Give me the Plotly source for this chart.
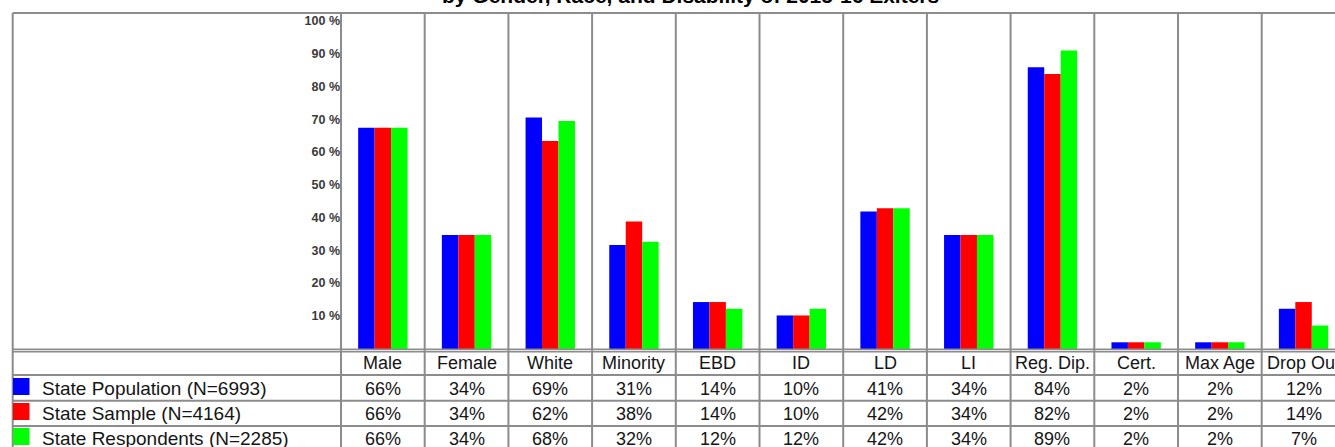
import plotly.graph_objects as go

# ---------------- data ----------------
categories = ["Male", "Female", "White", "Minority", "EBD", "ID", "LD", "LI",
              "Reg. Dip.", "Cert.", "Max Age", "Drop Out"]
series_names = ["State Population (N=6993)", "State Sample (N=4164)",
                "State Respondents (N=2285)"]
population = [66, 34, 69, 31, 14, 10, 41, 34, 84, 2, 2, 12]
sample = [66, 34, 62, 38, 14, 10, 42, 34, 82, 2, 2, 14]
respondents = [66, 34, 68, 32, 12, 12, 42, 34, 89, 2, 2, 7]
tick_values = [10, 20, 30, 40, 50, 60, 70, 80, 90, 100]
tick_labels = [f"{v} %" for v in tick_values]
title_text = "by Gender, Race, and Disability of 2015-16 Exiters"

# ---------------- styles / layout constants ----------------
W, H = 1335, 447
colors = ["#0000FF", "#FF0000", "#00FF00"]
LINE = "#8c8c8c"
FONT = "Liberation Sans, Arial, sans-serif"
TXT = "#151515"

def px_x(p):
    return p / W

def px_y(p):
    return 1 - p / H

left_border = 12.7
col_left = 341.0
top_border = 13.0
plot_top = 13.6
plot_bottom = 349.0
table_lines = [375.0, 400.8, 426.0]
header_center = 363.0
row_centers = [388.5, 413.5, 438.5]
swatch_tops = [378.0, 403.0, 428.0]

fig = go.Figure()
all_series = [population, sample, respondents]
for name, vals, col in zip(series_names, all_series, colors):
    fig.add_bar(x=categories, y=vals, name=name, marker_color=col,
                marker_line_width=0, showlegend=False, hoverinfo="x+y+name")
# helper trace so the label axis is drawn
fig.add_scatter(x=[categories[0]], y=[None], yaxis="y2", showlegend=False,
                hoverinfo="skip", mode="markers")

shapes = []
# outer border (left, top)
shapes.append(dict(type="line", xref="paper", yref="paper",
                   x0=px_x(left_border), x1=1.0, y0=px_y(top_border), y1=px_y(top_border),
                   line=dict(color=LINE, width=2)))
shapes.append(dict(type="line", xref="paper", yref="paper",
                   x0=px_x(left_border), x1=px_x(left_border), y0=0, y1=px_y(top_border),
                   line=dict(color=LINE, width=2)))
# first column divider
shapes.append(dict(type="line", xref="paper", yref="paper",
                   x0=px_x(col_left), x1=px_x(col_left), y0=0, y1=px_y(top_border),
                   line=dict(color=LINE, width=2)))
# category column dividers (from the category axis)
for i in range(len(categories) - 1):
    shapes.append(dict(type="line", xref="x", yref="paper",
                       x0=i + 0.5, x1=i + 0.5, y0=0, y1=px_y(top_border),
                       line=dict(color=LINE, width=2)))
# chart / table boundary (double line)
for yy in (349.3, 351.6):
    shapes.append(dict(type="line", xref="paper", yref="paper",
                       x0=px_x(left_border), x1=1.0, y0=px_y(yy), y1=px_y(yy),
                       line=dict(color=LINE, width=1.6)))
# table row lines
for yy in table_lines:
    shapes.append(dict(type="line", xref="paper", yref="paper",
                       x0=px_x(left_border), x1=1.0, y0=px_y(yy), y1=px_y(yy),
                       line=dict(color=LINE, width=2)))
# legend swatches
for top, col in zip(swatch_tops, colors):
    shapes.append(dict(type="rect", xref="paper", yref="paper",
                       x0=px_x(13.0), x1=px_x(29.5), y0=px_y(top + 17), y1=px_y(top),
                       fillcolor=col, line=dict(width=0), layer="above"))

annotations = []
# title (only its lower part is visible at the top edge)
annotations.append(dict(text=f"<b>{title_text}</b>", xref="paper", yref="paper",
                        x=px_x(690), y=px_y(-4.3), xanchor="center", yanchor="middle",
                        showarrow=False, font=dict(family=FONT, size=21, color="#000000")))
# table header
for c in categories:
    annotations.append(dict(text=c, xref="x", yref="paper", x=c, y=px_y(header_center),
                            xanchor="center", yanchor="middle", showarrow=False,
                            font=dict(family=FONT, size=18, color=TXT)))
# table rows
for name, vals, yc in zip(series_names, all_series, row_centers):
    annotations.append(dict(text=name, xref="paper", yref="paper", x=px_x(39.5), y=px_y(yc),
                            xanchor="left", yanchor="middle", showarrow=False,
                            font=dict(family=FONT, size=19, color=TXT)))
    for c, v in zip(categories, vals):
        annotations.append(dict(text=f"{v}%", xref="x", yref="paper", x=c, y=px_y(yc),
                                xanchor="center", yanchor="middle", showarrow=False,
                                font=dict(family=FONT, size=18, color=TXT)))

col_w = 83.7
x_right = -0.5 + (W - col_left) / col_w

fig.update_layout(
    width=W, height=H, autosize=False,
    margin=dict(l=0, r=0, t=0, b=0, pad=0),
    paper_bgcolor="white", plot_bgcolor="white",
    barmode="group", bargap=0.41, bargroupgap=0,
    showlegend=False,
    xaxis=dict(domain=[px_x(col_left), 1.0], range=[-0.5, x_right], type="category",
               showticklabels=False, showgrid=False, zeroline=False, showline=False,
               ticks="", fixedrange=True),
    yaxis=dict(domain=[px_y(plot_bottom), px_y(plot_top)], range=[0, 100],
               showticklabels=False, showgrid=False, zeroline=False, showline=False,
               ticks="", fixedrange=True),
    yaxis2=dict(overlaying="y", anchor="x", side="left", range=[-0.12, 102.2],
                tickmode="array", tickvals=tick_values, ticktext=tick_labels,
                showgrid=False, zeroline=False, showline=False, ticks="",
                tickfont=dict(family=FONT, size=12.5, color="#3a3a3a", weight="bold"),
                fixedrange=True),
    shapes=shapes,
    annotations=annotations,
)

fig.write_html("out.html", config={"displayModeBar": False},
               post_script="document.body.style.margin='0px';document.body.style.overflow='hidden';")
